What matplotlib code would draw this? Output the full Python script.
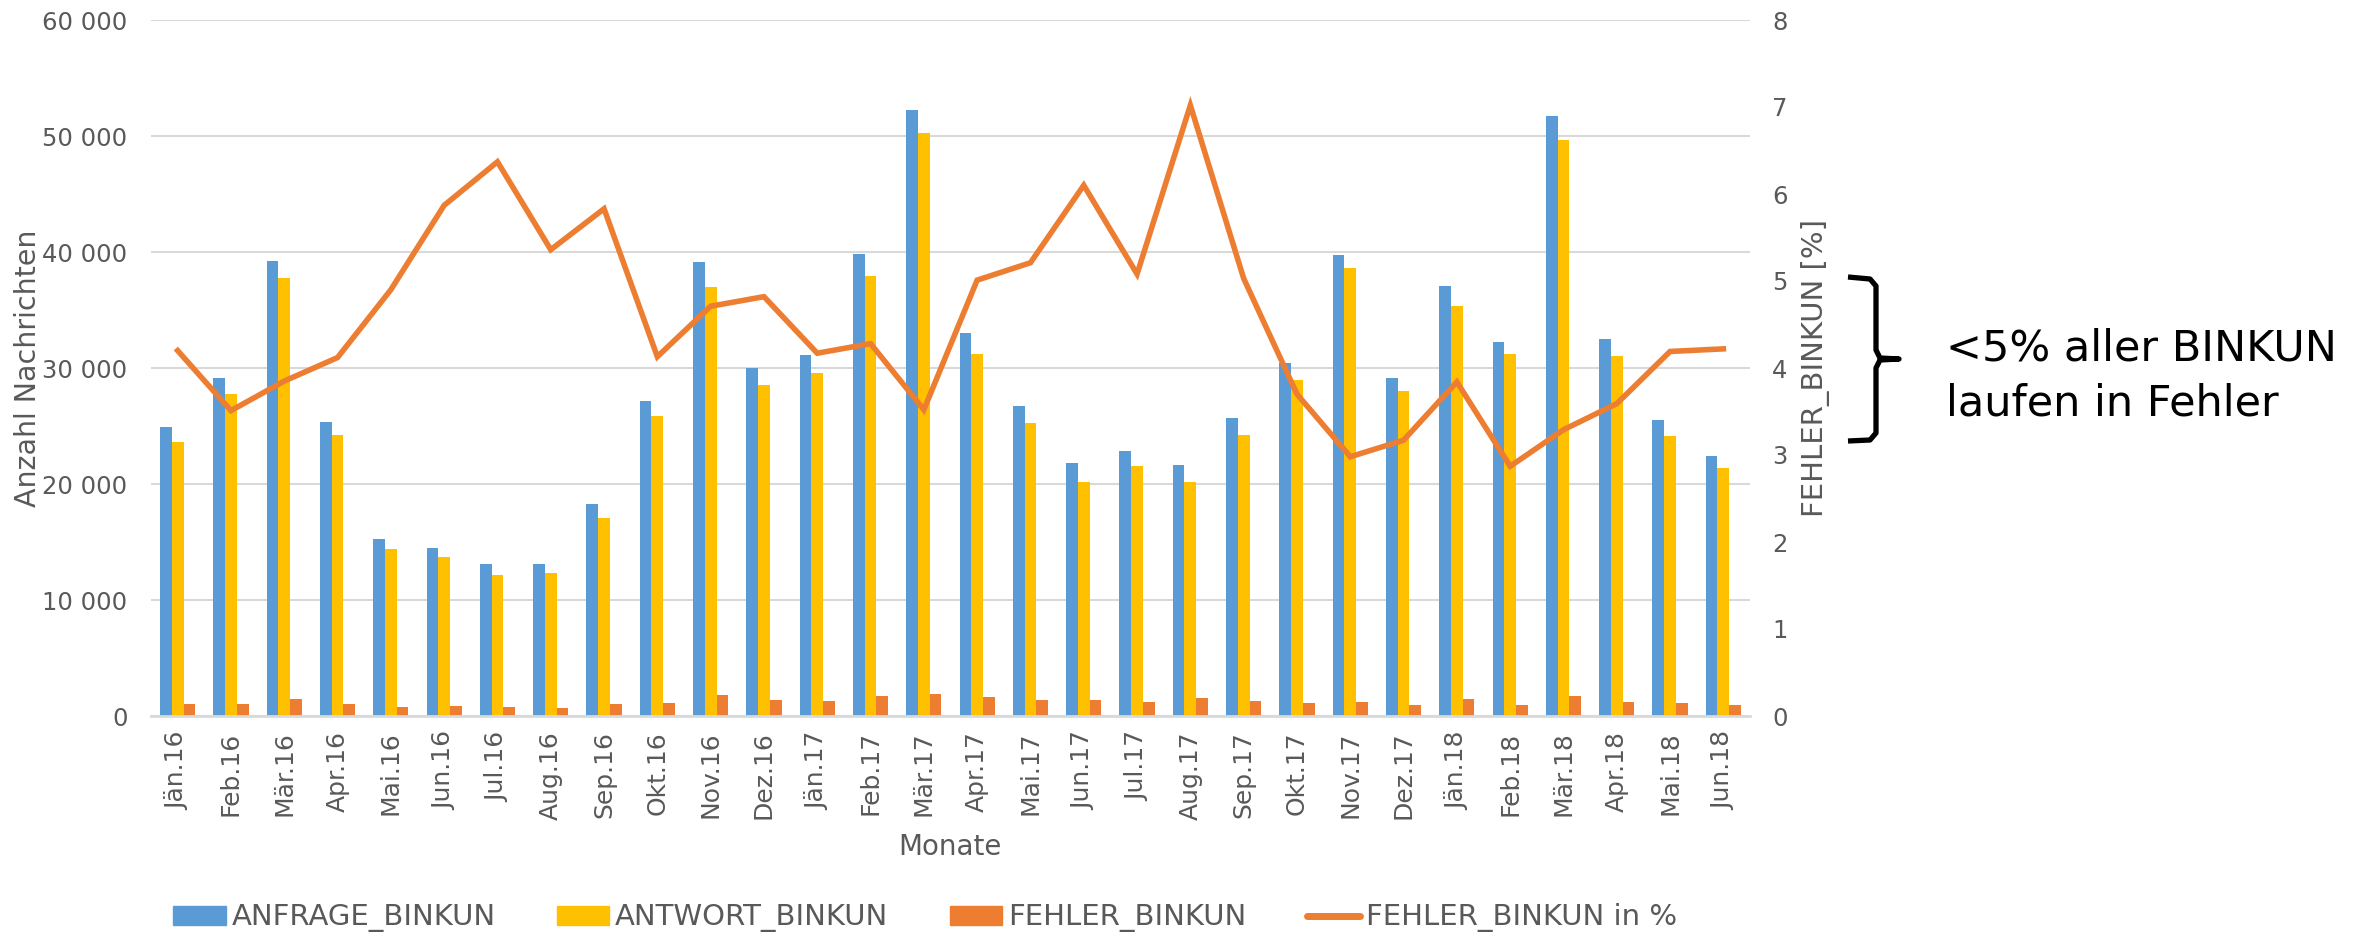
import numpy as np
import matplotlib
matplotlib.use("Agg")
import matplotlib.pyplot as plt
from matplotlib.patches import Patch
from matplotlib.lines import Line2D
from matplotlib.ticker import FuncFormatter

months = ["Jän.16", "Feb.16", "Mär.16", "Apr.16", "Mai.16", "Jun.16", "Jul.16", "Aug.16",
          "Sep.16", "Okt.16", "Nov.16", "Dez.16", "Jän.17", "Feb.17", "Mär.17", "Apr.17",
          "Mai.17", "Jun.17", "Jul.17", "Aug.17", "Sep.17", "Okt.17", "Nov.17", "Dez.17",
          "Jän.18", "Feb.18", "Mär.18", "Apr.18", "Mai.18", "Jun.18"]

anfrage = [24900, 29170, 39260, 25350, 15300, 14520, 13100, 13140, 18270, 27140,
           39140, 29980, 31120, 39870, 52200, 32990, 26690, 21810, 22860, 21640,
           25670, 30470, 39750, 29130, 37100, 32220, 51710, 32510, 25550, 22380]
antwort = [23600, 27790, 37800, 24200, 14400, 13670, 12160, 12330, 17090, 25830,
           36980, 28520, 29580, 37920, 50240, 31200, 25260, 20180, 21520, 20180,
           24210, 28970, 38610, 28030, 35350, 31200, 49670, 31040, 24130, 21360]
fehler = [1060, 1000, 1500, 1060, 770, 850, 810, 730, 1060, 1100,
          1830, 1420, 1300, 1750, 1870, 1670, 1380, 1340, 1180, 1550,
          1300, 1140, 1220, 980, 1460, 940, 1750, 1180, 1100, 940]
fehler_pct = [4.20, 3.51, 3.85, 4.12, 4.90, 5.87, 6.37, 5.36, 5.83, 4.13,
              4.71, 4.82, 4.17, 4.28, 3.52, 5.01, 5.21, 6.10, 5.08, 7.02,
              5.03, 3.70, 2.98, 3.17, 3.84, 2.87, 3.29, 3.59, 4.19, 4.22]

blue = "#5B9BD5"
yellow = "#FFC000"
orange = "#ED7D31"
grey = "#595959"
gridc = "#D9D9D9"

W, H = 2372, 940
fig = plt.figure(figsize=(W / 100, H / 100), dpi=100)
ax = fig.add_axes([151 / W, 1 - 716 / H, (1750 - 151) / W, (716 - 20) / H])
ax2 = ax.twinx()

x = np.arange(len(months))
w = 0.22
ax.bar(x - w, anfrage, w, color=blue)
ax.bar(x, antwort, w, color=yellow)
ax.bar(x + w, fehler, w, color=orange)
ax2.plot(x, fehler_pct, color=orange, lw=4, solid_joinstyle="miter")

ax.set_xlim(-0.5, len(months) - 0.5)
ax.set_ylim(0, 60000)
ax.set_yticks(range(0, 60001, 10000))
ax.yaxis.set_major_formatter(FuncFormatter(lambda v, p: f"{int(v):,}".replace(",", " ")))
ax2.set_ylim(0, 8)
ax2.set_yticks(range(0, 9))

ax.set_xticks(x)
ax.set_xticklabels(months, rotation=90)
ax.set_axisbelow(True)
ax.grid(axis="y", color=gridc, lw=1.5)

for a in (ax, ax2):
    for s in a.spines.values():
        s.set_visible(False)
ax.spines["bottom"].set_visible(True)
ax.spines["bottom"].set_color(gridc)
ax.spines["bottom"].set_linewidth(2)

ax.tick_params(axis="y", length=0, pad=17, labelsize=17.5, labelcolor=grey)
ax.tick_params(axis="x", length=0, pad=11, labelsize=18, labelcolor=grey)
ax2.tick_params(axis="y", length=0, pad=16, labelsize=17.5, labelcolor=grey)

fig.text(28 / W, 1 - 368 / H, "Anzahl Nachrichten", rotation=90, ha="center", va="center",
         fontsize=20.5, color=grey)
fig.text(1815 / W, 1 - 368 / H, "FEHLER_BINKUN [%]", rotation=90, ha="center", va="center",
         fontsize=21, color=grey)
fig.text(950 / W, 1 - 847 / H, "Monate", ha="center", va="center", fontsize=20, color=grey)

handles = [Patch(color=blue), Patch(color=yellow), Patch(color=orange),
           Line2D([], [], color=orange, lw=5, solid_capstyle="round")]
labels = ["ANFRAGE_BINKUN", "ANTWORT_BINKUN", "FEHLER_BINKUN", "FEHLER_BINKUN in %"]
leg = fig.legend(handles, labels, loc="center", bbox_to_anchor=(925 / W, 1 - 918 / H),
                 ncol=4, frameon=False, fontsize=21, handlelength=1.8, handleheight=0.62,
                 columnspacing=2.1, handletextpad=0.2)
for t in leg.get_texts():
    t.set_color(grey)

# brace + note
bx = [1848, 1870, 1876, 1876, 1880, 1899, 1880, 1876, 1876, 1870, 1848]
by = [277, 279, 286, 350, 358, 359, 360, 368, 433, 440, 441]
fig.add_artist(Line2D([v / W for v in bx], [1 - v / H for v in by], color="black", lw=3.8,
                      solid_joinstyle="round", solid_capstyle="butt"))
fig.text(1946 / W, 1 - 376 / H, "<5% aller BINKUN\nlaufen in Fehler", ha="left", va="center",
         fontsize=31, color="black", linespacing=1.42)

fig.savefig("out.png", dpi=100)
